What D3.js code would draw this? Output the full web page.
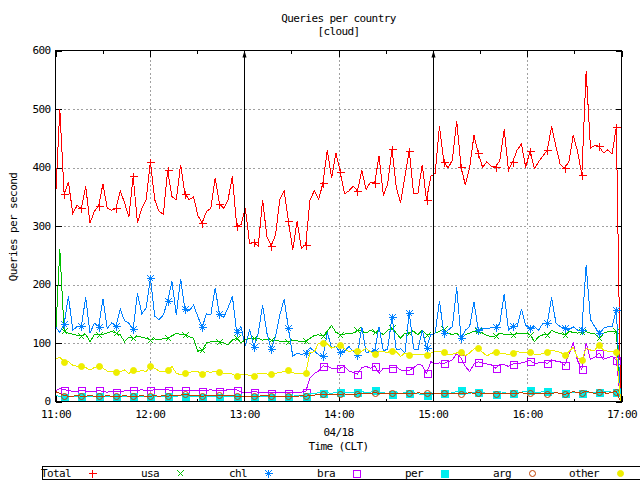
<!DOCTYPE html>
<html><head><meta charset="utf-8">
<script src="https://cdn.jsdelivr.net/npm/d3@7"></script>
<style>
html,body{margin:0;padding:0;background:#fff;}
svg{display:block;}
text{font-family:"DejaVu Sans Mono","Liberation Mono",monospace;font-size:11px;letter-spacing:-0.6px;fill:#000;}
</style></head><body>
<svg id="chart" width="640" height="480"></svg>
<script>
const titleText = "Queries per country";
const subtitleText = "[cloud]";
const xDateLabel = "04/18";
const xAxisLabel = "Time (CLT)";
const yAxisLabel = "Queries per second";
const yTicks = [0, 100, 200, 300, 400, 500, 600];
const arrowHours = [13, 15];
const seriesNames = ["Total", "usa", "chl", "bra", "per", "arg", "other"];
const seriesColors = ["#ff0000", "#00c000", "#0080ff", "#c000ff", "#00eeee", "#c04000", "#eeee00"];
const markerKinds = ["plus", "cross", "star", "square", "filledSquare", "circle", "filledCircle"];

const total = [345,500,355,375,322,335,330,368,305,325,335,372,330,327,330,360,340,315,385,305,
  330,345,410,345,325,320,395,350,345,405,355,345,350,318,305,325,330,382,338,330,
  345,385,300,302,330,270,272,265,345,282,266,285,345,360,308,259,308,262,268,345,
  360,345,374,430,382,425,393,355,360,368,360,395,362,375,374,420,352,372,432,365,
  340,385,429,355,355,405,345,385,390,470,410,399,413,480,401,370,400,455,424,400,
  410,402,401,412,465,395,410,430,440,400,429,398,410,420,430,470,436,405,399,410,
  455,428,388,565,433,438,436,425,430,423,469,0];
const usa = [108,260,120,117,115,113,112,115,102,114,114,115,117,120,117,114,102,110,108,111,
  110,108,105,107,105,108,108,112,117,114,114,111,108,86,88,100,102,103,102,100,
  97,105,108,100,106,108,108,108,105,106,105,105,103,102,102,105,104,102,103,108,
  113,114,112,120,130,118,114,115,117,117,122,120,117,122,118,120,114,122,125,117,
  108,117,117,120,114,122,114,114,117,120,124,117,114,117,108,114,117,120,120,117,
  113,111,112,117,115,114,114,116,117,117,114,102,111,114,114,122,118,116,114,120,
  118,117,118,119,117,116,108,117,119,120,120,0];
const chl = [128,118,132,180,122,128,129,178,117,134,128,175,125,134,129,158,138,134,124,185,
  150,160,211,146,140,148,172,205,148,210,158,155,165,145,127,150,148,194,149,144,
  160,180,118,128,95,122,94,117,165,117,89,111,148,175,125,77,83,80,83,92,
  86,80,77,118,92,94,84,86,94,86,80,128,83,86,87,128,86,90,145,88,
  90,83,152,90,88,122,92,114,117,172,117,122,128,195,108,122,128,170,122,124,
  125,126,127,134,184,122,129,128,158,130,125,128,122,134,134,178,134,128,125,122,
  128,122,122,233,140,128,117,125,128,128,157,0];
const bra = [18,22,20,19,17,17,19,18,17,17,19,17,16,17,17,17,18,19,19,19,
  20,19,19,20,21,20,20,19,19,18,19,18,18,18,18,19,20,19,18,19,
  20,20,20,16,16,16,17,16,15,15,15,16,15,15,15,16,16,16,17,40,
  48,52,61,60,57,56,57,60,52,50,47,58,60,57,61,48,57,56,58,59,
  54,52,53,58,63,62,48,68,65,66,65,68,71,82,74,60,51,64,68,66,
  64,63,57,64,63,60,64,65,66,68,70,65,66,67,65,71,69,68,62,80,
  100,70,55,100,72,76,83,72,75,77,71,0];
const per = [10,9,8,9,8,8,9,8,9,8,9,8,8,9,8,9,8,8,9,8,
  8,9,8,9,8,8,9,8,9,10,9,8,9,8,8,9,8,9,8,8,
  9,8,8,9,8,9,8,9,8,9,8,8,9,9,8,9,10,9,9,13,
  14,15,14,15,14,16,17,15,16,15,16,17,15,16,19,16,15,14,13,15,
  14,15,14,15,13,12,11,12,13,14,14,13,15,17,19,15,14,16,17,15,
  14,13,13,14,15,14,15,14,16,17,19,16,15,17,18,16,15,14,14,15,
  16,15,14,16,15,16,17,16,17,16,17,0];
const arg = [17,14,10,9,9,10,9,9,10,9,9,9,10,9,9,9,10,9,9,9,
  10,9,9,10,9,10,9,10,11,11,12,11,10,10,9,10,10,11,11,10,
  10,10,9,9,9,9,9,9,10,10,9,9,9,9,9,9,9,10,9,10,
  11,12,12,12,12,12,12,13,12,12,13,13,14,14,15,14,13,13,14,13,
  13,14,14,13,15,14,14,13,13,14,14,13,13,14,13,14,15,14,15,14,
  13,14,13,14,14,13,14,14,15,14,14,13,14,14,13,14,15,14,12,14,
  17,15,14,18,15,14,16,15,14,16,17,0];
const other = [72,76,68,68,62,60,61,58,54,58,61,57,52,51,51,51,54,48,54,51,
  53,51,60,57,52,51,53,60,48,46,48,50,51,51,47,51,50,52,51,48,
  48,47,43,46,46,45,44,48,48,47,47,48,50,51,53,49,48,48,48,84,
  85,100,100,99,91,94,97,90,85,88,87,86,91,85,81,85,85,84,87,85,
  77,83,80,80,81,80,80,83,85,85,84,80,81,83,85,78,83,90,91,84,
  78,82,85,83,82,80,83,85,84,83,85,81,80,82,85,88,86,84,80,85,
  93,75,71,91,88,88,97,88,86,85,85,0];
const seriesData = [total, usa, chl, bra, per, arg, other];

const pL = 55.5, pR = 621.5, pT = 50.5, pB = 401.5;
const t0 = new Date(2024, 3, 18, 11, 0, 0);
const t1 = new Date(2024, 3, 18, 17, 0, 0);
const stepMs = 164640;
const times = total.map((_, i) => new Date(+t0 + i * stepMs));

const x = d3.scaleTime().domain([t0, t1]).range([pL, pR]);
const y = d3.scaleLinear().domain([0, 600]).range([pB, pT]);
const svg = d3.select("#chart");
svg.append("rect").attr("width", 640).attr("height", 480).attr("fill", "#fff");

// grid
const gx = svg.append("g").attr("transform", `translate(0,${pB})`)
  .call(d3.axisBottom(x).ticks(d3.timeHour.every(1)).tickSize(-(pB - pT)).tickFormat(""));
gx.select(".domain").remove();
gx.selectAll(".tick").filter(d => +d === +t0 || +d === +t1).remove();
gx.selectAll("line").attr("stroke", "#a0a0a0").attr("stroke-dasharray", "2,2.3").attr("shape-rendering", "crispEdges");
const gy = svg.append("g").attr("transform", `translate(${pL},0)`)
  .call(d3.axisLeft(y).tickValues(yTicks.filter(v => v > 0 && v < 600)).tickSize(-(pR - pL)).tickFormat(""));
gy.select(".domain").remove();
gy.selectAll("line").attr("stroke", "#a0a0a0").attr("stroke-dasharray", "2,2.3").attr("shape-rendering", "crispEdges");

// axes ticks
function styleAxis(g) {
  g.select(".domain").remove();
  g.selectAll("line").attr("stroke", "#000").attr("shape-rendering", "crispEdges");
  g.attr("font-family", null).attr("font-size", null);
  g.selectAll("text").style("fill", "#000");
}
const xb = svg.append("g").attr("transform", `translate(0,${pB})`)
  .call(d3.axisBottom(x).ticks(d3.timeHour.every(1)).tickFormat(d3.timeFormat("%H:%M")).tickSize(-6).tickPadding(8.5));
styleAxis(xb);
const xbm = svg.append("g").attr("transform", `translate(0,${pB})`)
  .call(d3.axisBottom(x).ticks(d3.timeMinute.every(30)).tickFormat("").tickSize(-3));
styleAxis(xbm);
const xt = svg.append("g").attr("transform", `translate(0,${pT})`)
  .call(d3.axisTop(x).ticks(d3.timeHour.every(1)).tickFormat("").tickSize(-6));
styleAxis(xt);
const xtm = svg.append("g").attr("transform", `translate(0,${pT})`)
  .call(d3.axisTop(x).ticks(d3.timeMinute.every(30)).tickFormat("").tickSize(-3));
styleAxis(xtm);
const yl = svg.append("g").attr("transform", `translate(${pL},0)`)
  .call(d3.axisLeft(y).tickValues(yTicks).tickSize(-6).tickPadding(5));
styleAxis(yl);
yl.selectAll(".tick text").attr("dy", "0.28em");
const yr = svg.append("g").attr("transform", `translate(${pR},0)`)
  .call(d3.axisRight(y).tickValues(yTicks).tickFormat("").tickSize(-6));
styleAxis(yr);

// markers
function markerPath(kind, px, py) {
  const cx = Math.round(px) + 0.5, cy = Math.round(py) + 0.5;
  switch (kind) {
    case "plus": return `M${cx-4},${cy}H${cx+4}M${cx},${cy-4}V${cy+4}`;
    case "cross": return `M${cx-3},${cy-3}L${cx+3},${cy+3}M${cx-3},${cy+3}L${cx+3},${cy-3}`;
    case "star": return `M${cx-4},${cy}H${cx+4}M${cx},${cy-4}V${cy+4}M${cx-3},${cy-3}L${cx+3},${cy+3}M${cx-3},${cy+3}L${cx+3},${cy-3}`;
    case "square": case "filledSquare": return `M${cx-3.5},${cy-3.5}h7v7h-7z`;
    default: return `M${cx-3},${cy}a3,3 0 1,0 6,0a3,3 0 1,0 -6,0`;
  }
}
function styleMarker(sel, kind, color) {
  const filled = kind === "filledSquare" || kind === "filledCircle";
  sel.attr("fill", filled ? color : "none").attr("stroke", color).attr("stroke-width", 1)
    .attr("shape-rendering", kind.indexOf("ircle") >= 0 ? "auto" : "crispEdges");
}

// data
svg.append("clipPath").attr("id", "plotclip").append("rect")
  .attr("x", pL - 1).attr("y", pT - 10).attr("width", pR - pL + 1).attr("height", pB - pT + 12);
const plot = svg.append("g").attr("clip-path", "url(#plotclip)");
const line = d3.line().x((d, i) => x(times[i])).y(d => y(d));
seriesData.forEach((vals, k) => {
  plot.append("path").datum(vals).attr("d", line).attr("fill", "none")
    .attr("stroke", seriesColors[k]).attr("stroke-width", 1).attr("shape-rendering", "crispEdges");
  const pts = vals.map((v, i) => ({ t: times[i], v, i })).filter(d => d.i % 4 === 2);
  plot.selectAll(null).data(pts).enter().append("path")
    .attr("d", d => markerPath(markerKinds[k], x(d.t), y(d.v)))
    .call(styleMarker, markerKinds[k], seriesColors[k]);
});

// arrows
arrowHours.forEach(h => {
  const t = new Date(2024, 3, 18, h, 0, 0);
  const ax = Math.round(x(t)) + 0.5;
  svg.append("line").attr("x1", ax).attr("x2", ax).attr("y1", y(0)).attr("y2", y(600) + 2)
    .attr("stroke", "#000").attr("stroke-width", 1).attr("shape-rendering", "crispEdges");
  svg.append("path").attr("d", `M${ax},${y(600)}L${ax-2},${y(600)+7}L${ax+2},${y(600)+7}Z`).attr("fill", "#000");
});

// border
svg.append("rect").attr("x", pL).attr("y", pT).attr("width", pR - pL).attr("height", pB - pT)
  .attr("fill", "none").attr("stroke", "#000").attr("shape-rendering", "crispEdges");

// titles
const cxMid = (pL + pR) / 2;
svg.append("text").attr("x", cxMid).attr("y", 22).attr("text-anchor", "middle").text(titleText);
svg.append("text").attr("x", cxMid).attr("y", 35).attr("text-anchor", "middle").text(subtitleText);
svg.append("text").attr("x", cxMid).attr("y", 436).attr("text-anchor", "middle").text(xDateLabel);
svg.append("text").attr("x", cxMid).attr("y", 450).attr("text-anchor", "middle").text(xAxisLabel);
svg.append("text").attr("transform", `translate(17,227) rotate(-90)`).attr("text-anchor", "middle").text(yAxisLabel);

// legend
const lg = svg.append("g");
lg.append("rect").attr("x", 42.5).attr("y", 466.5).attr("width", 620).attr("height", 12.5)
  .attr("fill", "none").attr("stroke", "#000").attr("shape-rendering", "crispEdges");
seriesNames.forEach((name, k) => {
  const mx = 92 + 88 * k;
  lg.append("text").attr("x", mx - 21).attr("y", 477).attr("text-anchor", "end").text(name);
  lg.append("path").attr("d", markerPath(markerKinds[k], mx, 472.5))
    .call(styleMarker, markerKinds[k], seriesColors[k]);
});
</script>
</body></html>
